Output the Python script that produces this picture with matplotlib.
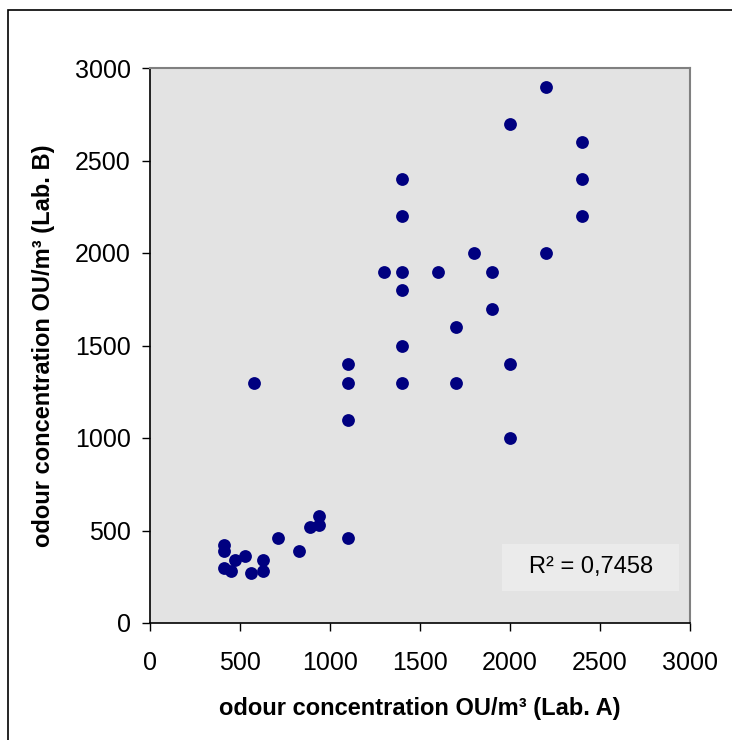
import matplotlib
matplotlib.use("Agg")
import matplotlib.pyplot as plt
from matplotlib.patches import Rectangle

plt.rcParams["font.family"] = ["Liberation Sans", "DejaVu Sans"]

# odour concentration, Lab. A vs Lab. B (OU/m3)
lab_a = [410, 410, 410, 450, 470, 530, 560, 630, 630, 710, 830, 890, 940, 940, 1100,
         580, 1100, 1100, 1100,
         1400, 1400, 1400, 1400, 1400, 1400, 1300, 1600,
         1700, 1700, 1800, 1900, 1900,
         2000, 2000, 2000, 2200, 2200, 2400, 2400, 2400]
lab_b = [420, 390, 300, 280, 340, 360, 270, 340, 280, 460, 390, 520, 580, 530, 460,
         1300, 1400, 1300, 1100,
         2400, 2200, 1900, 1800, 1500, 1300, 1900, 1900,
         1600, 1300, 2000, 1900, 1700,
         2700, 1400, 1000, 2900, 2000, 2600, 2400, 2200]
r2_text = "R² = 0,7458"

fig = plt.figure(figsize=(7.32, 7.4), dpi=100)
ax = fig.add_axes([150 / 732, 1 - 623 / 740, 540 / 732, 555 / 740])

# outer chart frame
fig.patches.append(Rectangle((8 / 732, -0.05), 1.1, 1 - 10 / 740 + 0.05,
                             transform=fig.transFigure, fill=False,
                             edgecolor="black", linewidth=1.2))

ax.set_facecolor("#E3E3E3")
ax.scatter(lab_a, lab_b, s=85, color="#000080", zorder=3, linewidths=0)

ax.set_xlim(0, 3000)
ax.set_ylim(0, 3000)
ax.set_xticks(range(0, 3001, 500))
ax.set_yticks(range(0, 3001, 500))
ax.tick_params(direction="out", length=6, width=1, labelsize=18)
ax.tick_params(axis="x", pad=14)
ax.tick_params(axis="y", pad=8)

for side in ("top", "right"):
    ax.spines[side].set_color("#808080")
    ax.spines[side].set_linewidth(1.5)
for side in ("left", "bottom"):
    ax.spines[side].set_color("black")
    ax.spines[side].set_linewidth(1.2)

ax.set_xlabel("odour concentration OU/m³ (Lab. A)", fontsize=17,
              fontweight="bold", labelpad=16)
ax.set_ylabel("odour concentration OU/m³ (Lab. B)", fontsize=17,
              fontweight="bold", labelpad=14)

# R² label box
ax.add_patch(Rectangle((1956, 173), 983, 254, facecolor="#EBEBEB",
                       edgecolor="none", zorder=2))
ax.text(2450, 300, r2_text, fontsize=17, ha="center", va="center", zorder=4)

fig.savefig("out.png", dpi=100, facecolor="white")
